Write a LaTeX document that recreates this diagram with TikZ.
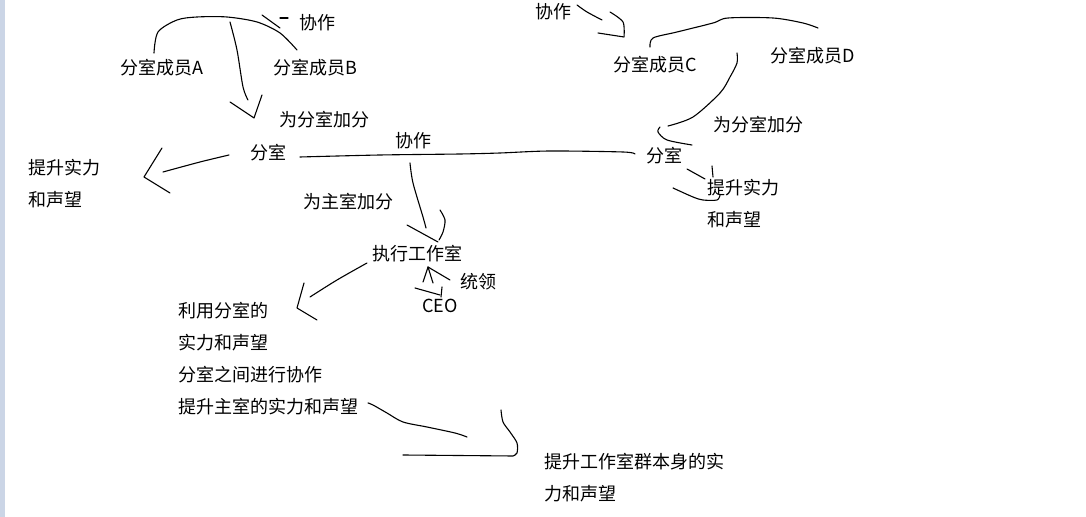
\documentclass[tikz,border=0pt]{standalone}
\usepackage{fontspec}
\setmainfont{Noto Sans CJK SC}
\definecolor{edgeblue}{HTML}{CBD5E6}

\begin{document}
\begin{tikzpicture}[x=0.5pt, y=-0.5pt,
  main/.style = {inner sep=0pt, anchor=west, font=\fontsize{9pt}{16pt}\selectfont},
  multi/.style = {main, align=left, anchor=north west},
  pen/.style = {line width=0.55pt, line cap=round, line join=round}]
\useasboundingbox (0,0) rectangle (1086,517);
\fill[white] (0,0) rectangle (1086,517);
\fill[edgeblue] (0,0) rectangle (5,517);

% left group
\node[main] (coopL) at (299,23) {协作};
\node[main] (A) at (120,68) {分室成员A};
\node[main] (B) at (273,68) {分室成员B};
\node[main] (addL) at (279,120) {为分室加分};
\node[main] (roomL) at (250,153) {分室};
\node[multi] (gainL) at (28,159) {提升实力\\和声望};
\node[main] (coopM) at (395,141) {协作};

% right group
\node[main] (coopR) at (535,12) {协作};
\node[main] (C) at (613,65) {分室成员C};
\node[main] (D) at (770,56) {分室成员D};
\node[main] (addR) at (713,125) {为分室加分};
\node[main] (roomR) at (646,156) {分室};
\node[multi] (gainR) at (707,179) {提升实力\\和声望};

% main room
\node[main] (addM) at (303,202) {为主室加分};
\node[main] (exec) at (372,254) {执行工作室};
\node[main] (lead) at (460,282) {统领};
\node[main] (ceo) at (422,306) {CEO};
\node[multi] (use) at (178,302) {利用分室的\\实力和声望\\分室之间进行协作\\提升主室的实力和声望};
\node[multi] (group) at (544,453) {提升工作室群本身的实\\力和声望};

% strokes, left
\draw[pen] plot[smooth] coordinates {(154,53) (158,32) (177,20) (197,17) (227,17) (257,22) (280,33) (297,50)};
\draw[pen] (262,15) -- (280,28);
\draw[pen] (280,18) -- (288,18);
\draw[pen] plot[smooth] coordinates {(230,22) (237,50) (243,87) (248,100)};
\draw[pen] (230,102) -- (254,118) -- (262,95);
\draw[pen] plot[smooth] coordinates {(229,155) (200,162) (163,172)};
\draw[pen] (162,148) -- (144,177) -- (170,193);
\draw[pen] plot[smooth] coordinates {(300,157) (380,155) (460,154) (500,153) (550,151) (623,152) (635,154)};

% strokes, right
\draw[pen] plot[smooth] coordinates {(577,5) (587,12) (602,20)};
\draw[pen] plot[smooth] coordinates {(610,12) (623,22) (624,37)} -- (598,33);
\draw[pen] plot[smooth] coordinates {(650,47) (653,38) (677,32) (713,23) (728,18) (773,18) (803,23) (818,28)};
\draw[pen] plot[smooth] coordinates {(737,53) (737,63) (730,77) (720,93) (693,117) (668,126)};
\draw[pen] plot[smooth] coordinates {(660,127) (658,132) (667,140) (692,145)};
\draw[pen] (687,169) -- (705,179);
\draw[pen] (712,166) -- (713,177);
\draw[pen] plot[smooth] coordinates {(673,188) (693,197) (703,200) (717,200) (720,195)};

% strokes, main room
\draw[pen] plot[smooth] coordinates {(410,163) (413,183) (423,217) (426,228)};
\draw[pen] plot[smooth] coordinates {(440,210) (445,220) (443,232) (439,240)};
\draw[pen] (407,225) -- (438,242);
\draw[pen] (428,267) -- (423,282);
\draw[pen] (428,267) -- (433,283);
\draw[pen] (428,267) -- (450,280);
\draw[pen] (415,288) -- (440,295);
\draw[pen] (442,287) -- (441,297);
\draw[pen] plot[smooth] coordinates {(367,263) (337,280) (310,297)};
\draw[pen] (304,283) -- (297,308) -- (317,320);
\draw[pen] plot[smooth] coordinates {(368,403) (373,405) (387,413) (403,422) (427,427) (455,433) (467,437)};
\draw[pen] plot[smooth] coordinates {(501,410) (503,422) (510,432) (517,443) (517,453) (513,456)} -- (403,455);
\end{tikzpicture}
\end{document}
